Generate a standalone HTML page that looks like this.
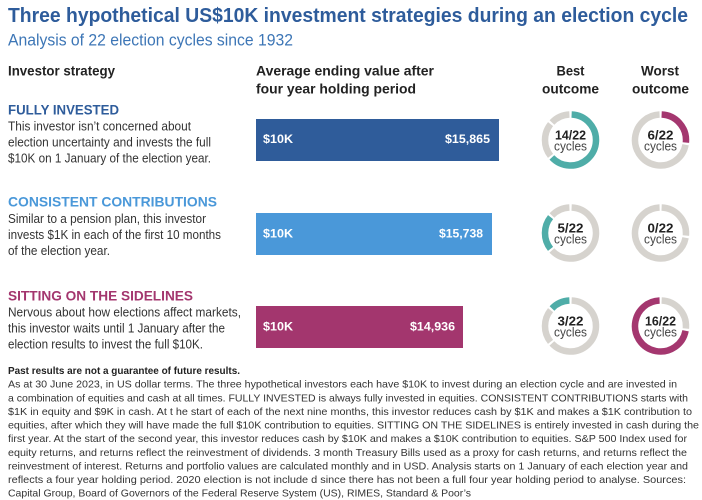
<!DOCTYPE html>
<html><head><meta charset="utf-8"><style>
html,body{margin:0;padding:0;background:#fff;}
svg{display:block;}
text{font-family:"Liberation Sans",sans-serif;}
</style></head><body>
<svg width="702" height="500" viewBox="0 0 702 500" xmlns="http://www.w3.org/2000/svg">
<rect width="702" height="500" fill="#fff"/>
<!-- Title -->
<text x="8" y="22" font-size="20" font-weight="bold" fill="#2E5C9B" textLength="680" lengthAdjust="spacingAndGlyphs">Three hypothetical US$10K investment strategies during an election cycle</text>
<text x="8" y="45.5" font-size="17" fill="#3D76B6" textLength="285" lengthAdjust="spacingAndGlyphs">Analysis of 22 election cycles since 1932</text>

<!-- Column headers -->
<g font-size="14" font-weight="bold" fill="#222">
<text x="8" y="75.5" textLength="107" lengthAdjust="spacingAndGlyphs">Investor strategy</text>
<text x="256" y="75.5" textLength="178" lengthAdjust="spacingAndGlyphs">Average ending value after</text>
<text x="256" y="93.5" textLength="160" lengthAdjust="spacingAndGlyphs">four year holding period</text>
<text x="556.5" y="75.5" textLength="28" lengthAdjust="spacingAndGlyphs">Best</text>
<text x="542" y="93.5" textLength="57" lengthAdjust="spacingAndGlyphs">outcome</text>
<text x="641" y="75.5" textLength="38" lengthAdjust="spacingAndGlyphs">Worst</text>
<text x="632" y="93.5" textLength="57" lengthAdjust="spacingAndGlyphs">outcome</text>
</g>

<!-- Row headings -->
<g font-size="14" font-weight="bold">
<text x="8" y="114.3" fill="#2E5C9B" textLength="111" lengthAdjust="spacingAndGlyphs">FULLY INVESTED</text>
<text x="8" y="206.7" fill="#4A98D9" textLength="209" lengthAdjust="spacingAndGlyphs">CONSISTENT CONTRIBUTIONS</text>
<text x="8" y="300.7" fill="#A3366E" textLength="185" lengthAdjust="spacingAndGlyphs">SITTING ON THE SIDELINES</text>
</g>

<!-- Row bodies -->
<g font-size="12.5" fill="#333">
<text x="8" y="130.5" textLength="183" lengthAdjust="spacingAndGlyphs">This investor isn’t concerned about</text>
<text x="8" y="146.5" textLength="203" lengthAdjust="spacingAndGlyphs">election uncertainty and invests the full</text>
<text x="8" y="162.3" textLength="203" lengthAdjust="spacingAndGlyphs">$10K on 1 January of the election year.</text>

<text x="8" y="223.2" textLength="198" lengthAdjust="spacingAndGlyphs">Similar to a pension plan, this investor</text>
<text x="8" y="239.1" textLength="213" lengthAdjust="spacingAndGlyphs">invests $1K in each of the first 10 months</text>
<text x="8" y="255" textLength="102" lengthAdjust="spacingAndGlyphs">of the election year.</text>

<text x="8" y="316.7" textLength="233" lengthAdjust="spacingAndGlyphs">Nervous about how elections affect markets,</text>
<text x="8" y="332.6" textLength="217" lengthAdjust="spacingAndGlyphs">this investor waits until 1 January after the</text>
<text x="8" y="348.4" textLength="195" lengthAdjust="spacingAndGlyphs">election results to invest the full $10K.</text>
</g>

<!-- Bars -->
<rect x="256" y="119" width="243" height="42" fill="#2F5C9A"/>
<rect x="256" y="213" width="236" height="42" fill="#4A98D9"/>
<rect x="256" y="306" width="207" height="42" fill="#A3366E"/>
<g font-size="12" font-weight="bold" fill="#fff">
<text x="263" y="143" textLength="30" lengthAdjust="spacingAndGlyphs">$10K</text>
<text x="445" y="143" textLength="45" lengthAdjust="spacingAndGlyphs">$15,865</text>
<text x="263" y="237.3" textLength="30" lengthAdjust="spacingAndGlyphs">$10K</text>
<text x="439" y="237.3" textLength="44" lengthAdjust="spacingAndGlyphs">$15,738</text>
<text x="263" y="330.5" textLength="30" lengthAdjust="spacingAndGlyphs">$10K</text>
<text x="410" y="330.5" textLength="45" lengthAdjust="spacingAndGlyphs">$14,936</text>
</g>

<!-- Donuts: r=25.5, C=160.22 -->
<g fill="none" stroke-width="6.5">
<circle cx="570.5" cy="140" r="25.5" stroke="#4FADA8" stroke-dasharray="99.73 200" transform="rotate(-87.5 570.5 140)"/>
<circle cx="570.5" cy="140" r="25.5" stroke="#D6D3CE" stroke-dasharray="34.19 200" transform="rotate(141.59 570.5 140)"/>
<circle cx="570.5" cy="140" r="25.5" stroke="#D6D3CE" stroke-dasharray="19.62 200" transform="rotate(223.41 570.5 140)"/>
<circle cx="660.5" cy="140" r="25.5" stroke="#A4376F" stroke-dasharray="41.47 200" transform="rotate(-87.5 660.5 140)"/>
<circle cx="660.5" cy="140" r="25.5" stroke="#D6D3CE" stroke-dasharray="114.30 200" transform="rotate(10.68 660.5 140)"/>

<circle cx="570.5" cy="233" r="25.5" stroke="#D6D3CE" stroke-dasharray="99.73 200" transform="rotate(-87.5 570.5 233)"/>
<circle cx="570.5" cy="233" r="25.5" stroke="#4FADA8" stroke-dasharray="34.19 200" transform="rotate(141.59 570.5 233)"/>
<circle cx="570.5" cy="233" r="25.5" stroke="#D6D3CE" stroke-dasharray="19.62 200" transform="rotate(223.41 570.5 233)"/>
<circle cx="660.5" cy="233" r="25.5" stroke="#D6D3CE" stroke-dasharray="41.47 200" transform="rotate(-87.5 660.5 233)"/>
<circle cx="660.5" cy="233" r="25.5" stroke="#D6D3CE" stroke-dasharray="114.30 200" transform="rotate(10.68 660.5 233)"/>

<circle cx="570.5" cy="326" r="25.5" stroke="#D6D3CE" stroke-dasharray="99.73 200" transform="rotate(-87.5 570.5 326)"/>
<circle cx="570.5" cy="326" r="25.5" stroke="#D6D3CE" stroke-dasharray="34.19 200" transform="rotate(141.59 570.5 326)"/>
<circle cx="570.5" cy="326" r="25.5" stroke="#4FADA8" stroke-dasharray="19.62 200" transform="rotate(223.41 570.5 326)"/>
<circle cx="660.5" cy="326" r="25.5" stroke="#D6D3CE" stroke-dasharray="41.47 200" transform="rotate(-87.5 660.5 326)"/>
<circle cx="660.5" cy="326" r="25.5" stroke="#A4376F" stroke-dasharray="114.30 200" transform="rotate(10.68 660.5 326)"/>
</g>

<!-- Donut labels -->
<g font-size="12.5" text-anchor="middle">
<text x="570.5" y="139.5" font-weight="bold" fill="#222" textLength="31" lengthAdjust="spacingAndGlyphs">14/22</text>
<text x="570.5" y="150.5" fill="#444" textLength="33" lengthAdjust="spacingAndGlyphs">cycles</text>
<text x="660.5" y="139.5" font-weight="bold" fill="#222" textLength="26" lengthAdjust="spacingAndGlyphs">6/22</text>
<text x="660.5" y="150.5" fill="#444" textLength="33" lengthAdjust="spacingAndGlyphs">cycles</text>

<text x="570.5" y="232.5" font-weight="bold" fill="#222" textLength="26" lengthAdjust="spacingAndGlyphs">5/22</text>
<text x="570.5" y="243.5" fill="#444" textLength="33" lengthAdjust="spacingAndGlyphs">cycles</text>
<text x="660.5" y="232.5" font-weight="bold" fill="#222" textLength="26" lengthAdjust="spacingAndGlyphs">0/22</text>
<text x="660.5" y="243.5" fill="#444" textLength="33" lengthAdjust="spacingAndGlyphs">cycles</text>

<text x="570.5" y="325.5" font-weight="bold" fill="#222" textLength="26" lengthAdjust="spacingAndGlyphs">3/22</text>
<text x="570.5" y="336.5" fill="#444" textLength="33" lengthAdjust="spacingAndGlyphs">cycles</text>
<text x="660.5" y="325.5" font-weight="bold" fill="#222" textLength="31" lengthAdjust="spacingAndGlyphs">16/22</text>
<text x="660.5" y="336.5" fill="#444" textLength="33" lengthAdjust="spacingAndGlyphs">cycles</text>
</g>

<!-- Footnote -->
<g font-size="10.2" fill="#333">
<text x="8" y="374" font-weight="bold" fill="#222" textLength="232" lengthAdjust="spacingAndGlyphs">Past results are not a guarantee of future results.</text>
<text x="8" y="387.6" textLength="669" lengthAdjust="spacingAndGlyphs">As at 30 June 2023, in US dollar terms. The three hypothetical investors each have $10K to invest during an election cycle and are invested in</text>
<text x="8" y="401.3" textLength="680" lengthAdjust="spacingAndGlyphs">a combination of equities and cash at all times. FULLY INVESTED is always fully invested in equities. CONSISTENT CONTRIBUTIONS starts with</text>
<text x="8" y="414.9" textLength="684" lengthAdjust="spacingAndGlyphs">$1K in equity and $9K in cash. At t he start of each of the next nine months, this investor reduces cash by $1K and makes a $1K contribution to</text>
<text x="8" y="428.5" textLength="691" lengthAdjust="spacingAndGlyphs">equities, after which they will have made the full $10K contribution to equities. SITTING ON THE SIDELINES is entirely invested in cash during the</text>
<text x="8" y="442.2" textLength="679" lengthAdjust="spacingAndGlyphs">first year. At the start of the second year, this investor reduces cash by $10K and makes a $10K contribution to equities. S&amp;P 500 Index used for</text>
<text x="8" y="455.8" textLength="679" lengthAdjust="spacingAndGlyphs">equity returns, and returns reflect the reinvestment of dividends. 3 month Treasury Bills used as a proxy for cash returns, and returns reflect the</text>
<text x="8" y="469.4" textLength="680" lengthAdjust="spacingAndGlyphs">reinvestment of interest. Returns and portfolio values are calculated monthly and in USD. Analysis starts on 1 January of each election year and</text>
<text x="8" y="483.1" textLength="678" lengthAdjust="spacingAndGlyphs">reflects a four year holding period. 2020 election is not include d since there has not been a full four year holding period to analyse. Sources:</text>
<text x="8" y="496.7" textLength="463" lengthAdjust="spacingAndGlyphs">Capital Group, Board of Governors of the Federal Reserve System (US), RIMES, Standard &amp; Poor’s</text>
</g>
</svg>
</body></html>
